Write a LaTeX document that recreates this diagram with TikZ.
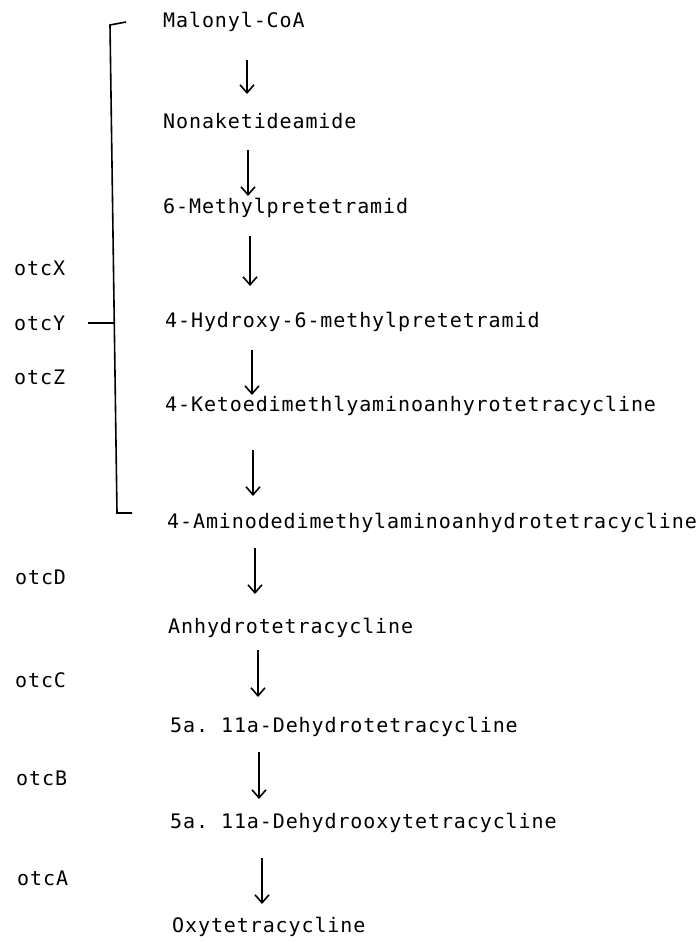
\documentclass[tikz,border=0pt]{standalone}
\usepackage{fontspec}
\setmonofont{DejaVu Sans Mono}[LetterSpace=4.5]
\usetikzlibrary{arrows.meta}
\begin{document}
\begin{tikzpicture}[x=1pt,y=-1pt,
  txt/.style={anchor=west,inner sep=0pt,font=\ttfamily\fontsize{20}{22}\selectfont},
  arr/.style={-{Straight Barb[length=8pt,width=14pt]},line width=1.6pt},
  brk/.style={line width=1.6pt}]
\useasboundingbox (0,0) rectangle (698,942);
% compounds
\node[txt] (c1) at (163,22) {Malonyl-CoA};
\node[txt] (c2) at (163,121) {Nonaketideamide};
\node[txt] (c3) at (163,208) {6-Methylpretetramid};
\node[txt] (c4) at (165,322) {4-Hydroxy-6-methylpretetramid};
\node[txt] (c5) at (165,406) {4-Ketoedimethlyaminoanhyrotetracycline};
\node[txt] (c6) at (167,523) {4-Aminodedimethylaminoanhydrotetracycline};
\node[txt] (c7) at (168,628) {Anhydrotetracycline};
\node[txt] (c8) at (170,727) {5a. 11a-Dehydrotetracycline};
\node[txt] (c9) at (170,823) {5a. 11a-Dehydrooxytetracycline};
\node[txt] (c10) at (172,927) {Oxytetracycline};
% genes
\node[txt] (gX) at (14,268) {otcX};
\node[txt] (gY) at (14,323) {otcY};
\node[txt] (gZ) at (14,377) {otcZ};
\node[txt] (gD) at (15,577) {otcD};
\node[txt] (gC) at (15,680) {otcC};
\node[txt] (gB) at (16,778) {otcB};
\node[txt] (gA) at (17,878) {otcA};
% arrows
\coordinate (s1) at (247,60);  \coordinate (e1) at (247,94);
\coordinate (s2) at (248,150); \coordinate (e2) at (248,196);
\coordinate (s3) at (250,236); \coordinate (e3) at (250,286);
\coordinate (s4) at (252,350); \coordinate (e4) at (252,395);
\coordinate (s5) at (253,450); \coordinate (e5) at (253,496);
\coordinate (s6) at (255,548); \coordinate (e6) at (255,594);
\coordinate (s7) at (258,650); \coordinate (e7) at (258,697);
\coordinate (s8) at (259,752); \coordinate (e8) at (259,799);
\coordinate (s9) at (262,858); \coordinate (e9) at (262,904);
\foreach \i in {1,...,9} \draw[arr] (s\i) -- (e\i);
% bracket
\coordinate (bt) at (126,22);
\coordinate (btc) at (110,25);
\coordinate (bbc) at (117,513);
\coordinate (bb) at (132,513);
\draw[brk] (bt) -- (btc) -- (bbc) -- (bb);
\coordinate (ty) at (88,323);
\coordinate (tyb) at (115,323);
\draw[brk] (ty) -- (tyb);
\end{tikzpicture}
\end{document}
